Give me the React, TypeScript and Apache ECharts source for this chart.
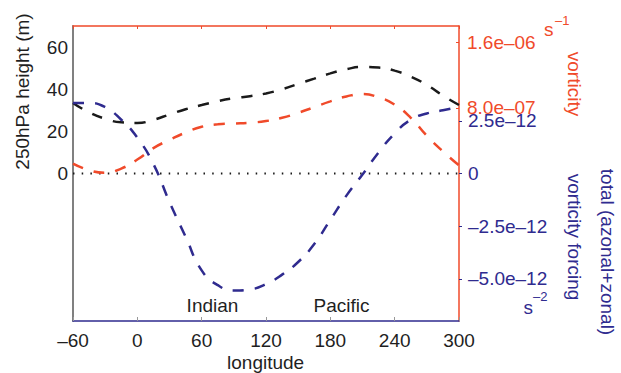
import React, { useEffect, useRef } from "react";
import * as echarts from "echarts";

const longitudes = [-60, -45, -30, -15, 0, 15, 30, 45, 60, 75, 90, 105, 120, 135, 150, 165, 180, 195, 210, 225, 240, 255, 270, 285, 300];
// 250hPa height (m)
const heightValues = [33.5, 29, 26, 24.3, 24, 25.5, 28, 30.5, 32.5, 34.3, 35.7, 36.7, 38, 40, 42.5, 45, 47.5, 49.5, 50.6, 50.3, 48.8, 46, 42, 37, 32.5];
// vorticity (s^-1)
const vorticityValues = [1.2e-7, 0.4e-7, 0.1e-7, 0.6e-7, 1.7e-7, 3.1e-7, 4.1e-7, 5.0e-7, 5.7e-7, 6.0e-7, 6.1e-7, 6.2e-7, 6.4e-7, 6.8e-7, 7.4e-7, 8.1e-7, 8.8e-7, 9.4e-7, 9.7e-7, 9.3e-7, 8.4e-7, 6.8e-7, 4.6e-7, 2.7e-7, 1.0e-7];
// total (azonal+zonal) vorticity forcing (s^-2)
const forcingValues = [3.35e-12, 3.35e-12, 3.15e-12, 2.55e-12, 1.7e-12, 0.45e-12, -1.35e-12, -3.0e-12, -4.6e-12, -5.3e-12, -5.55e-12, -5.5e-12, -5.25e-12, -4.8e-12, -4.2e-12, -3.35e-12, -2.2e-12, -1.05e-12, -0.05e-12, 1.0e-12, 1.9e-12, 2.55e-12, 2.85e-12, 3.0e-12, 3.15e-12];
const zeroLine = [[-60, 0], [300, 0]];

const heightTicks = [0, 20, 40, 60];
const vorticityTicks = [8e-7, 1.6e-6];
const forcingTicks = [-5e-12, -2.5e-12, 0, 2.5e-12];

const FONT = "'Liberation Sans', Arial, Helvetica, sans-serif";
const RED = "#f04a2a";
const BLUE = "#2f2b8f";
const BLACK = "#1a1a1a";
const TXT = "#1f1f1f";
const DASH = "\u2013";

function sci(v: number): string {
  if (v === 0) return "0";
  const [m, e] = v.toExponential(1).split("e");
  const en = parseInt(e, 10);
  const sign = en < 0 ? DASH : "+";
  return m.replace("-", DASH) + "e" + sign + String(Math.abs(en)).padStart(2, "0");
}

export default function App() {
  const ref = useRef<HTMLDivElement>(null);
  useEffect(() => {
    if (!ref.current) return;
    const chart = echarts.init(ref.current, null, { renderer: "svg" });
    const pair = (vals: number[]) => longitudes.map((x, i) => [x, vals[i]]);
    chart.setOption({
      animation: false,
      backgroundColor: "#ffffff",
      textStyle: { fontFamily: FONT },
      grid: { left: 73, right: 162, top: 26, bottom: 52, containLabel: false, outerBoundsMode: "none" },
      xAxis: [
        {
          type: "value",
          min: -60,
          max: 300,
          interval: 60,
          position: "bottom",
          axisLine: { show: true, onZero: false, lineStyle: { color: BLUE, width: 1.5 } },
          axisTick: { show: true, inside: true, length: 4, lineStyle: { color: "#999", width: 1 } },
          axisLabel: {
            color: TXT,
            fontSize: 19,
            fontFamily: FONT,
            margin: 10,
            formatter: (v: number) => (v < 0 ? DASH + String(-v) : String(v)),
          },
          splitLine: { show: false },
        },
        {
          type: "value",
          min: -60,
          max: 300,
          interval: 60,
          position: "top",
          axisLine: { show: true, onZero: false, lineStyle: { color: RED, width: 1.5 } },
          axisTick: { show: true, inside: true, length: 3, lineStyle: { color: RED, width: 1 } },
          axisLabel: { show: false },
          splitLine: { show: false },
        },
      ],
      yAxis: [
        {
          type: "value",
          min: -70,
          max: 70,
          position: "left",
          axisLine: { show: true, onZero: false, lineStyle: { color: "#808080", width: 2 } },
          axisTick: { show: false },
          axisLabel: {
            color: TXT,
            fontSize: 19,
            fontFamily: FONT,
            margin: 5,
            customValues: heightTicks,
          },
          splitLine: { show: false },
        },
        {
          type: "value",
          min: -1.8e-6,
          max: 1.8e-6,
          position: "right",
          axisLine: { show: true, onZero: false, lineStyle: { color: RED, width: 1.5 } },
          axisTick: { show: true, inside: true, length: 3, customValues: vorticityTicks, lineStyle: { color: RED, width: 1 } },
          axisLabel: {
            color: RED,
            fontSize: 19,
            fontFamily: FONT,
            margin: 8,
            customValues: vorticityTicks,
            formatter: (v: number) => sci(v),
          },
          splitLine: { show: false },
        },
        {
          type: "value",
          min: -7e-12,
          max: 7e-12,
          position: "right",
          offset: 0,
          axisLine: { show: false, onZero: false },
          axisTick: { show: true, inside: false, length: 3, customValues: forcingTicks, lineStyle: { color: BLUE, width: 1 } },
          axisLabel: {
            color: BLUE,
            fontSize: 19,
            fontFamily: FONT,
            margin: 9,
            customValues: forcingTicks,
            formatter: (v: number) => sci(v),
          },
          splitLine: { show: false },
        },
      ],
      series: [
        {
          type: "line",
          data: zeroLine,
          xAxisIndex: 0,
          yAxisIndex: 0,
          showSymbol: false,
          lineStyle: { color: BLACK, width: 2, type: [1.5, 7.2] },
        },
        {
          type: "line",
          data: pair(heightValues),
          xAxisIndex: 0,
          yAxisIndex: 0,
          smooth: true,
          showSymbol: false,
          lineStyle: { color: BLACK, width: 2.5, type: [11, 11] },
        },
        {
          type: "line",
          data: pair(vorticityValues),
          xAxisIndex: 0,
          yAxisIndex: 1,
          smooth: true,
          showSymbol: false,
          lineStyle: { color: RED, width: 2.5, type: [11, 11] },
        },
        {
          type: "line",
          data: pair(forcingValues),
          xAxisIndex: 0,
          yAxisIndex: 2,
          smooth: true,
          showSymbol: false,
          lineStyle: { color: BLUE, width: 2.5, type: [11, 11] },
        },
      ],
      graphic: [
        {
          type: "text",
          x: 22.5,
          y: 91.5,
          rotation: Math.PI / 2,
          style: { text: "250hPa height (m)", fill: TXT, font: `19px ${FONT}`, align: "center", verticalAlign: "middle" },
        },
        {
          type: "text",
          x: 265.6,
          y: 362,
          style: { text: "longitude", fill: TXT, font: `19px ${FONT}`, align: "center", verticalAlign: "middle" },
        },
        {
          type: "text",
          x: 212.5,
          y: 305,
          style: { text: "Indian", fill: TXT, font: `19px ${FONT}`, align: "center", verticalAlign: "middle" },
        },
        {
          type: "text",
          x: 341.5,
          y: 305,
          style: { text: "Pacific", fill: TXT, font: `19px ${FONT}`, align: "center", verticalAlign: "middle" },
        },
        {
          type: "text",
          x: 544,
          y: 29,
          style: { text: "s", fill: RED, font: `19px ${FONT}`, align: "left", verticalAlign: "middle" },
        },
        {
          type: "text",
          x: 555,
          y: 20,
          style: { text: DASH + "1", fill: RED, font: `13px ${FONT}`, align: "left", verticalAlign: "middle" },
        },
        {
          type: "text",
          x: 574,
          y: 84,
          rotation: -Math.PI / 2,
          style: { text: "vorticity", fill: RED, font: `19px ${FONT}`, align: "center", verticalAlign: "middle" },
        },
        {
          type: "text",
          x: 574,
          y: 237,
          rotation: -Math.PI / 2,
          style: { text: "vorticity forcing", fill: BLUE, font: `19px ${FONT}`, align: "center", verticalAlign: "middle" },
        },
        {
          type: "text",
          x: 607,
          y: 252,
          rotation: -Math.PI / 2,
          style: { text: "total (azonal+zonal)", fill: BLUE, font: `19px ${FONT}`, align: "center", verticalAlign: "middle" },
        },
        {
          type: "text",
          x: 533,
          y: 307,
          style: { text: "s", fill: BLUE, font: `19px ${FONT}`, align: "right", verticalAlign: "middle" },
        },
        {
          type: "text",
          x: 533,
          y: 296,
          style: { text: DASH + "2", fill: BLUE, font: `13px ${FONT}`, align: "left", verticalAlign: "middle" },
        },
      ],
    });
    return () => chart.dispose();
  }, []);
  return (
    <div
      ref={ref}
      style={{ position: "fixed", left: 0, top: 0, width: 621, height: 373, background: "#fff" }}
    />
  );
}
